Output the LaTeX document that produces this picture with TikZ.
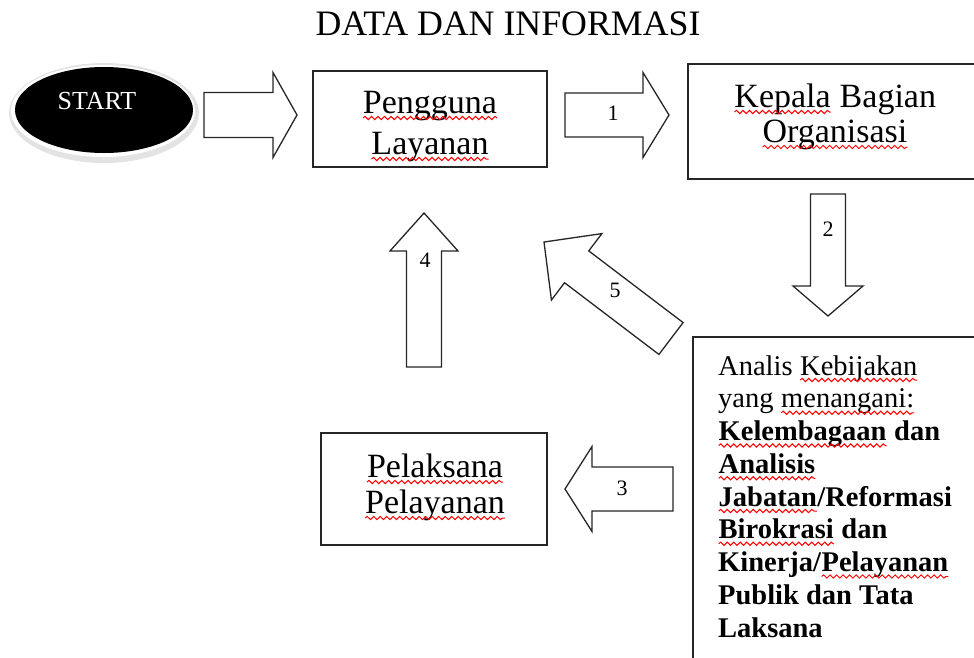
\documentclass[tikz,border=0pt]{standalone}
\usepackage{fontspec}
\setmainfont{Liberation Serif}
\usetikzlibrary{shapes.geometric,decorations.pathmorphing}
\newcommand\sq[1]{\tikz[baseline=(sqw.base)]{\node[inner sep=0pt, outer sep=0pt] (sqw) {#1};
  \draw[red, line width=1pt, decorate, decoration={snake, amplitude=1.6pt, segment length=6.5pt}]
    ([yshift=-5pt]sqw.base west) -- ([yshift=-5pt]sqw.base east);}}
\newcommand\blockarrow[7]{%
  \begin{scope}[shift={#2}, rotate=#3]
    \draw[arrowbody] (0,-#5) -- ({#4-#7},-#5) -- ({#4-#7},-#6) -- (#4,0)
      -- ({#4-#7},#6) -- ({#4-#7},#5) -- (0,#5) -- cycle;
    \coordinate (#1tail) at (0,0);
    \coordinate (#1tip) at (#4,0);
  \end{scope}}
\tikzset{
  box/.style={draw=black!85, line width=1.8pt, rectangle, inner sep=0pt},
  arrowbody/.style={draw=black!85, line width=1.3pt, fill=white, line join=miter},
  boxtxt/.style={font=\fontsize{34}{36}\selectfont, inner sep=0pt, anchor=base},
  numtxt/.style={font=\fontsize{22}{24}\selectfont, inner sep=0pt},
  antxt/.style={font=\fontsize{28.5}{32.75}\selectfont, inner sep=0pt, anchor=base west},
  anbold/.style={antxt, font=\fontsize{28.5}{32.75}\selectfont\bfseries},
}
\begin{document}
\begin{tikzpicture}[x=1pt, y=-1pt]
\useasboundingbox (0,0) rectangle (974,657);
\clip (0,0) rectangle (974,657);

% title
\node[font=\fontsize{35.8}{40}\selectfont, inner sep=0pt, anchor=base] (title) at (508,35) {DATA DAN INFORMASI};

% START
\fill[gray!22] (104,113) ellipse [x radius=95, y radius=50];
\fill[white] (103,111) ellipse [x radius=92, y radius=46];
\node[ellipse, fill=black, minimum width=178, minimum height=86, inner sep=0pt] (start) at (104,110) {};
\node[font=\fontsize{26}{28}\selectfont, text=white, inner sep=0pt] (starttxt) at (97,101) {START};

% boxes
\node[box, minimum width=234, minimum height=96] (pengguna) at (430,119) {};
\node[boxtxt] (peng1) at (430,113) {\sq{Pengguna}};
\node[boxtxt] (peng2) at (430,154) {\sq{Layanan}};

\node[box, minimum width=294, minimum height=115] (kepala) at (835,121.5) {};
\node[boxtxt] (kep1) at (835,107) {\sq{Kepala} Bagian};
\node[boxtxt] (kep2) at (835,142) {\sq{Organisasi}};

\node[box, minimum width=226, minimum height=112] (pelaksana) at (434,489) {};
\node[boxtxt] (pel1) at (435,477) {\sq{Pelaksana}};
\node[boxtxt] (pel2) at (435,513) {\sq{Pelayanan}};

\node[box, minimum width=297, minimum height=363] (analis) at (841.5,518.5) {};
\node[antxt] (an1) at (718,375) {Analis \sq{Kebijakan}};
\node[antxt] (an2) at (718,407.75) {yang \sq{menangani:}};
\node[anbold] (an3) at (718,440.5) {\sq{Kelembagaan} dan};
\node[anbold] (an4) at (718,473.25) {\sq{Analisis}};
\node[anbold] (an5) at (718,506) {\sq{Jabatan}/Reformasi};
\node[anbold] (an6) at (718,538.75) {\sq{Birokrasi} dan};
\node[anbold] (an7) at (718,571.5) {Kinerja/\sq{Pelayanan}};
\node[anbold] (an8) at (718,604.25) {Publik dan Tata};
\node[anbold] (an9) at (718,637) {Laksana};

% block arrows
\blockarrow{a0}{(204,115)}{0}{93}{22.5}{42.5}{24}
\blockarrow{a1}{(565,115)}{0}{104}{22}{42.5}{26}
\blockarrow{a2}{(828,194)}{-90}{122}{17.5}{35}{30}
\blockarrow{a3}{(673,489)}{180}{108}{22}{42.5}{27}
\blockarrow{a4}{(424,367)}{90}{154}{17.5}{34}{38}
\blockarrow{a5}{(671,338.5)}{142.77}{159.5}{20}{41.7}{41}

\node[numtxt] (n1) at (613,113) {1};
\node[numtxt] (n2) at (828,229) {2};
\node[numtxt] (n3) at (622,488) {3};
\node[numtxt] (n4) at (425,260) {4};
\node[numtxt] (n5) at (615,290) {5};
\end{tikzpicture}
\end{document}
